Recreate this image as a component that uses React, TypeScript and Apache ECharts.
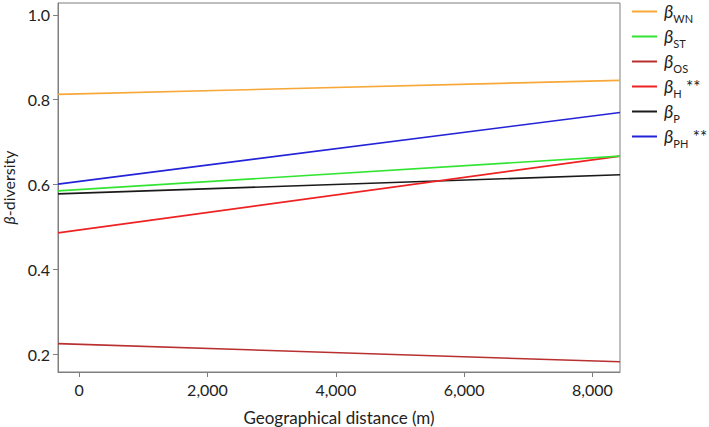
import React, { useEffect, useRef } from "react";
import * as echarts from "echarts";

const xRange = [-330, 8430];
const seriesKeys = ["WN", "ST", "OS", "H", "P", "PH"];
const seriesStars = ["", "", "", "**", "", "**"];
const seriesColors = ["#f7a838", "#33e533", "#b8302f", "#ee2222", "#1a1a1a", "#2323d8"];
const valuesWN = [0.8125, 0.8456];
const valuesST = [0.585, 0.667];
const valuesOS = [0.225, 0.182];
const valuesH = [0.486, 0.667];
const valuesP = [0.578, 0.623];
const valuesPH = [0.601, 0.77];
const xTicks = [0, 2000, 4000, 6000, 8000];
const yTicks = [0.2, 0.4, 0.6, 0.8, 1.0];

const FONT = "Lato";

export default function App() {
  const ref = useRef<HTMLDivElement>(null);
  useEffect(() => {
    if (!ref.current) return;
    const chart = echarts.init(ref.current, null, { renderer: "svg" });
    const allValues = [valuesWN, valuesST, valuesOS, valuesH, valuesP, valuesPH];
    const series = seriesKeys.map((k, i) => ({
      name: k,
      type: "line",
      symbol: "none",
      showSymbol: false,
      data: xRange.map((x, j) => [x, allValues[i][j]]),
      lineStyle: { color: seriesColors[i], width: 1.6 },
      itemStyle: { color: seriesColors[i] },
      z: 10 - i,
    }));
    chart.setOption({
      animation: false,
      grid: {
        left: 58,
        right: 89,
        top: 3,
        bottom: 55,
        show: true,
        borderColor: "#7f7f7f",
        borderWidth: 1,
        containLabel: false,
        outerBoundsMode: "none",
      },
      legend: {
        orient: "vertical",
        left: 632,
        top: 2,
        padding: 0,
        icon: "rect",
        itemWidth: 25,
        itemHeight: 2,
        itemGap: 3,
        data: seriesKeys,
        formatter: (name: string) => {
          const i = seriesKeys.indexOf(name);
          return `{b|β}{s|${name}}` + (seriesStars[i] ? `{st| ${seriesStars[i]}}` : "");
        },
        textStyle: {
          fontFamily: FONT,
          color: "#222",
          padding: [0, 0, 0, 2],
          rich: {
            b: { fontFamily: FONT, fontSize: 18, fontStyle: "italic", color: "#222", lineHeight: 17, verticalAlign: "bottom" },
            s: { fontFamily: FONT, fontSize: 11, color: "#222", lineHeight: 17, verticalAlign: "bottom", padding: [0, 0, -4, 0] },
            st: { fontFamily: FONT, fontSize: 17, color: "#222", lineHeight: 17, verticalAlign: "bottom", padding: [0, 0, 0, 0] },
          },
        },
      },
      xAxis: {
        type: "value",
        min: xRange[0],
        max: xRange[1],
        name: "Geographical distance (m)",
        nameLocation: "middle",
        nameGap: 37,
        nameTextStyle: { fontFamily: FONT, fontSize: 17, color: "#222" },
        axisLine: { show: true, onZero: false, lineStyle: { color: "#7f7f7f", width: 1 } },
        axisTick: { show: true, length: 5, lineStyle: { color: "#7f7f7f" }, customValues: xTicks },
        axisLabel: {
          fontFamily: FONT,
          fontSize: 16,
          color: "#222",
          margin: 9,
          customValues: xTicks,
          formatter: (v: number) => v.toLocaleString("en-US"),
        },
        splitLine: { show: false },
      },
      yAxis: {
        type: "value",
        min: 0.158,
        max: 1.028,
        name: "{i|β}-diversity",
        nameLocation: "middle",
        nameGap: 38,
        nameTextStyle: {
          fontFamily: FONT,
          fontSize: 16,
          color: "#222",
          rich: { i: { fontFamily: FONT, fontSize: 16, fontStyle: "italic", color: "#222" } },
        },
        axisLine: { show: true, onZero: false, lineStyle: { color: "#7f7f7f", width: 1 } },
        axisTick: { show: true, length: 5, lineStyle: { color: "#7f7f7f" }, customValues: yTicks },
        axisLabel: {
          fontFamily: FONT,
          fontSize: 16,
          color: "#222",
          margin: 8,
          customValues: yTicks,
          formatter: (v: number) => v.toFixed(1),
        },
        splitLine: { show: false },
      },
      series,
    });
    return () => chart.dispose();
  }, []);
  return <div ref={ref} style={{ width: 709, height: 427, position: "absolute", left: 0, top: 0 }} />;
}
